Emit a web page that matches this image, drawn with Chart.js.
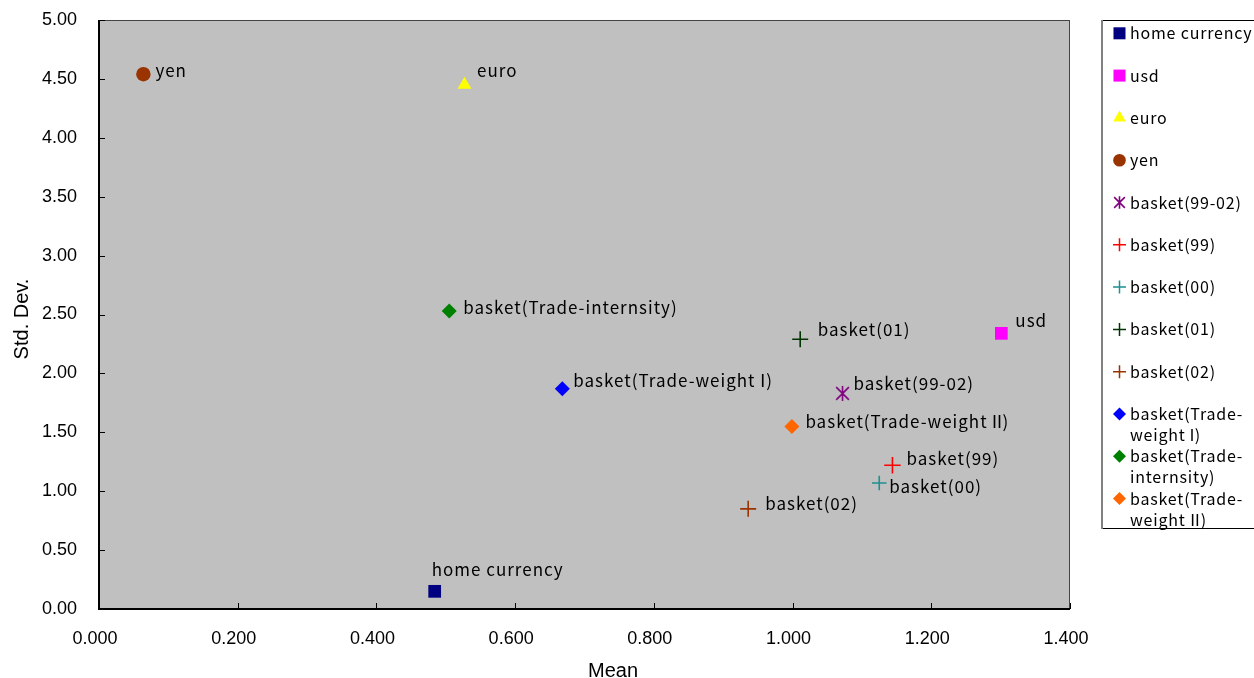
<!DOCTYPE html>
<html>
<head>
<meta charset="utf-8">
<script src="https://cdn.jsdelivr.net/npm/chart.js@4/dist/chart.umd.min.js"></script>
<style>
  html, body { margin: 0; padding: 0; background: #ffffff; }
  #wrap { width: 1254px; height: 678px; position: relative; }
</style>
</head>
<body>
<div id="wrap"><canvas id="c" width="1254" height="678"></canvas></div>
<script>
// Series (one point each): mean return vs. standard deviation
const seriesNames = [
  'home currency', 'usd', 'euro', 'yen',
  'basket(99-02)', 'basket(99)', 'basket(00)', 'basket(01)', 'basket(02)',
  'basket(Trade-weight Ⅰ)', 'basket(Trade-internsity)', 'basket(Trade-weight Ⅱ)'
];
const meanValues   = [0.484, 1.301, 0.527, 0.064, 1.072, 1.144, 1.125, 1.011, 0.936, 0.668, 0.505, 0.999];
const stdDevValues = [0.15, 2.34, 4.45, 4.54, 1.83, 1.22, 1.07, 2.29, 0.85, 1.87, 2.53, 1.55];

// Legend text, wrapped the way the legend box shows it
const legendLines = [
  ['home currency'], ['usd'], ['euro'], ['yen'],
  ['basket(99-02)'], ['basket(99)'], ['basket(00)'], ['basket(01)'], ['basket(02)'],
  ['basket(Trade-', 'weight Ⅰ)'], ['basket(Trade-', 'internsity)'], ['basket(Trade-', 'weight Ⅱ)']
];

// Axis ranges / tick steps
const xRange = { min: 0, max: 1.4, step: 0.2 };
const yRange = { min: 0, max: 5, step: 0.5 };
const axisTitles = { x: 'Mean', y: 'Std. Dev.' };

// Marker look for each series (plot radius, legend radius)
const markerStyles = [
  { style: 'rect',     color: '#000080', r: 9,   lr: 8.5 },
  { style: 'rect',     color: '#FF00FF', r: 9,   lr: 8.5 },
  { style: 'triangle', color: '#FFFF00', r: 8,   lr: 7.3 },
  { style: 'circle',   color: '#993300', r: 7.2, lr: 6.3 },
  { style: 'star6',    color: '#800080', r: 7.5, lr: 6.3 },
  { style: 'cross',    color: '#FF0000', r: 8.2, lr: 6.5 },
  { style: 'cross',    color: '#1E9090', r: 7.3, lr: 6.5 },
  { style: 'cross',    color: '#003300', r: 8,   lr: 6.5 },
  { style: 'cross',    color: '#993300', r: 8,   lr: 6.5 },
  { style: 'rectRot',  color: '#0000FF', r: 7.5, lr: 6.5 },
  { style: 'rectRot',  color: '#008000', r: 7.5, lr: 6.5 },
  { style: 'rectRot',  color: '#FF6600', r: 7.5, lr: 6.5 }
];

// Label start (x) and baseline (y) relative to each marker, px
const labelOffsets = [
  [-3, -15], [14, -6], [12.5, -7.5], [12, 3],
  [11, -3], [14, 0], [10, 10.5], [17.5, -3.5], [17, 1],
  [11, -1.5], [14, 3.5], [13.5, 1.5]
];

const labelFont = '17px "Noto Sans CJK JP", "DejaVu Sans", sans-serif';
const legendFont = '16px "Noto Sans CJK JP", "DejaVu Sans", sans-serif';
const axisFont = '"Liberation Sans", Arial, sans-serif';

// Draws text left-aligned; full-width roman numerals are packed tightly
// against their neighbours instead of taking a whole em.
function drawText(ctx, text, x, y, spacing) {
  let cx = x;
  let run = '';
  const flush = () => {
    if (!run) return;
    ctx.fillText(run, cx, y);
    cx += ctx.measureText(run).width;
    run = '';
  };
  for (const ch of text) {
    if (ch === 'Ⅰ' || ch === 'Ⅱ') {
      flush();
      const m = ctx.measureText(ch);
      const inkL = -m.actualBoundingBoxLeft;
      const inkW = m.actualBoundingBoxRight + m.actualBoundingBoxLeft;
      ctx.fillText(ch, cx + 1 - inkL, y);
      cx += inkW + 2 + spacing;
    } else {
      run += ch;
    }
  }
  flush();
}

// Six-armed asterisk marker (X plus vertical bar)
function makeStar(color, r) {
  const size = Math.ceil(r * 2 + 4);
  const cv = document.createElement('canvas');
  cv.width = size; cv.height = size;
  const g = cv.getContext('2d');
  const c = size / 2;
  g.strokeStyle = color;
  g.lineWidth = 1.6;
  g.beginPath();
  g.moveTo(c, c - r); g.lineTo(c, c + r);
  const d = r * 0.85;
  g.moveTo(c - d, c - d); g.lineTo(c + d, c + d);
  g.moveTo(c + d, c - d); g.lineTo(c - d, c + d);
  g.stroke();
  return cv;
}

function pointStyleFor(m, r) {
  if (m.style === 'star6') return makeStar(m.color, r);
  return m.style;
}

const datasets = seriesNames.map((name, i) => {
  const m = markerStyles[i];
  const isLine = m.style === 'cross';
  return {
    label: name,
    data: [{ x: meanValues[i], y: stdDevValues[i] }],
    pointStyle: pointStyleFor(m, m.r),
    pointRadius: m.r,
    pointHoverRadius: m.r,
    backgroundColor: m.color,
    borderColor: m.color,
    borderWidth: isLine ? 1.6 : 0,
    showLine: false
  };
});

// Gray plot background
const bgPlugin = {
  id: 'plotBg',
  beforeDraw(chart) {
    const { ctx, chartArea: a } = chart;
    ctx.save();
    ctx.fillStyle = '#C0C0C0';
    ctx.fillRect(a.left, a.top, a.right - a.left, a.bottom - a.top);
    ctx.restore();
  }
};

// Frame, axis lines and inward tick marks
const framePlugin = {
  id: 'frame',
  beforeDatasetsDraw(chart) {
    const { ctx, chartArea: a, scales } = chart;
    ctx.save();
    ctx.strokeStyle = '#444444';
    ctx.lineWidth = 1;
    ctx.strokeRect(a.left + 0.5, a.top + 0.5, a.right - a.left - 1, a.bottom - a.top);
    ctx.strokeStyle = '#000000';
    ctx.beginPath();
    scales.x.ticks.forEach(t => {
      const px = Math.round(scales.x.getPixelForValue(t.value)) + 0.5;
      ctx.moveTo(px, a.bottom); ctx.lineTo(px, a.bottom - 6);
    });
    scales.y.ticks.forEach(t => {
      const py = Math.round(scales.y.getPixelForValue(t.value)) + 0.5;
      ctx.moveTo(a.left, py); ctx.lineTo(a.left + 6, py);
    });
    ctx.stroke();
    ctx.lineWidth = 2;
    ctx.beginPath();
    ctx.moveTo(a.left, a.top); ctx.lineTo(a.left, a.bottom); ctx.lineTo(a.right, a.bottom);
    ctx.stroke();
    ctx.restore();
  }
};

// Axis titles
const titlePlugin = {
  id: 'axisTitles',
  afterDraw(chart) {
    const { ctx } = chart;
    ctx.save();
    ctx.fillStyle = '#000000';
    ctx.font = '20px ' + axisFont;
    ctx.textAlign = 'center';
    ctx.textBaseline = 'alphabetic';
    ctx.fillText(axisTitles.x, 613, 677);
    ctx.translate(28, 319);
    ctx.rotate(-Math.PI / 2);
    ctx.fillText(axisTitles.y, 0, 0);
    ctx.restore();
  }
};

// Name of each series next to its point
const pointLabelPlugin = {
  id: 'pointLabels',
  afterDatasetsDraw(chart) {
    const { ctx } = chart;
    ctx.save();
    ctx.font = labelFont;
    ctx.letterSpacing = '1px';
    ctx.fillStyle = '#000000';
    ctx.textAlign = 'left';
    ctx.textBaseline = 'alphabetic';
    chart.data.datasets.forEach((ds, i) => {
      const el = chart.getDatasetMeta(i).data[0];
      if (!el) return;
      const off = labelOffsets[i];
      drawText(ctx, ds.label, el.x + off[0], el.y + off[1], 1);
    });
    ctx.restore();
  }
};

// Boxed legend on the right
const legendBoxPlugin = {
  id: 'legendBox',
  afterDraw(chart) {
    const { ctx } = chart;
    const boxL = 1101, boxT = 20, boxB = 528;
    ctx.save();
    ctx.fillStyle = '#ffffff';
    ctx.fillRect(boxL, boxT, 200, boxB - boxT);
    ctx.strokeStyle = '#000000';
    ctx.lineWidth = 1;
    ctx.strokeRect(boxL + 0.5, boxT + 0.5, 200, boxB - boxT);
    ctx.strokeStyle = '#808080';
    ctx.lineWidth = 2;
    ctx.beginPath();
    ctx.moveTo(boxL + 1, boxT); ctx.lineTo(boxL + 1, boxB + 1);
    ctx.stroke();

    const rowY0 = 33.3, rowStep = 42.3, lineGap = 21;
    const markX = 1119.5, textX = 1130;
    ctx.font = legendFont;
    ctx.letterSpacing = '0.8px';
    ctx.textAlign = 'left';
    ctx.textBaseline = 'alphabetic';
    legendLines.forEach((lines, i) => {
      const y = rowY0 + i * rowStep;
      const m = markerStyles[i];
      ctx.fillStyle = m.color;
      ctx.strokeStyle = m.color;
      ctx.lineWidth = 1.5;
      Chart.helpers.drawPoint(ctx, {
        pointStyle: pointStyleFor(m, m.lr), radius: m.lr, rotation: 0,
        borderWidth: m.style === 'cross' ? 1.5 : 0
      }, markX, y);
      ctx.fillStyle = '#000000';
      lines.forEach((t, k) => drawText(ctx, t, textX, y + 6 + k * lineGap, 0.8));
    });
    ctx.restore();
  }
};

new Chart(document.getElementById('c'), {
  type: 'scatter',
  data: { datasets },
  options: {
    responsive: false,
    animation: false,
    devicePixelRatio: 1,
    layout: { padding: { left: 0, top: 20, right: 184, bottom: 0 } },
    plugins: {
      legend: { display: false },
      tooltip: { enabled: false }
    },
    scales: {
      x: {
        type: 'linear',
        min: xRange.min, max: xRange.max,
        border: { display: false },
        grid: { display: false, drawTicks: false },
        ticks: {
          stepSize: xRange.step,
          padding: 19,
          labelOffset: -4,
          color: '#000000',
          font: { family: axisFont, size: 18 },
          callback: v => Number(v).toFixed(3)
        },
        title: { display: false },
        afterFit(scale) {
          scale.height = 69;
          scale.paddingLeft = 0; scale.paddingRight = 0;
        }
      },
      y: {
        type: 'linear',
        min: yRange.min, max: yRange.max,
        border: { display: false },
        grid: { display: false, drawTicks: false },
        ticks: {
          stepSize: yRange.step,
          padding: 22,
          color: '#000000',
          font: { family: axisFont, size: 18 },
          callback: v => Number(v).toFixed(2)
        },
        title: { display: false },
        afterFit(scale) {
          scale.width = 99;
          scale.paddingTop = 0; scale.paddingBottom = 0;
        }
      }
    }
  },
  plugins: [bgPlugin, framePlugin, pointLabelPlugin, titlePlugin, legendBoxPlugin]
});
</script>
</body>
</html>
